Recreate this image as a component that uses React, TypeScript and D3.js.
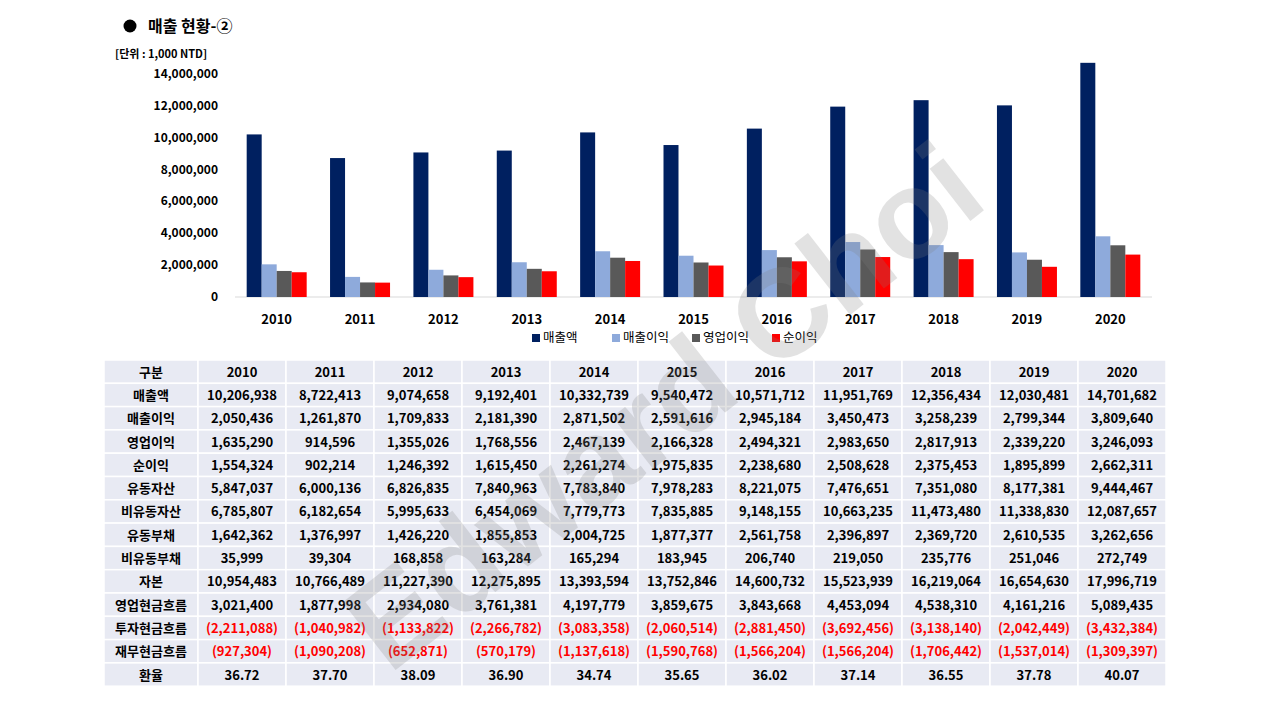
import * as d3 from 'd3'

const years = ['2010', '2011', '2012', '2013', '2014', '2015', '2016', '2017', '2018', '2019', '2020']
const seriesNames = ['매출액', '매출이익', '영업이익', '순이익']
const seriesColors = ['#002060', '#8eaadb', '#595959', '#ff0000']
const yTicks = [0, 2000000, 4000000, 6000000, 8000000, 10000000, 12000000, 14000000]

const sales = [10206938, 8722413, 9074658, 9192401, 10332739, 9540472, 10571712, 11951769, 12356434, 12030481, 14701682]
const grossProfit = [2050436, 1261870, 1709833, 2181390, 2871502, 2591616, 2945184, 3450473, 3258239, 2799344, 3809640]
const opProfit = [1635290, 914596, 1355026, 1768556, 2467139, 2166328, 2494321, 2983650, 2817913, 2339220, 3246093]
const netProfit = [1554324, 902214, 1246392, 1615450, 2261274, 1975835, 2238680, 2508628, 2375453, 1895899, 2662311]
const currentAssets = [5847037, 6000136, 6826835, 7840963, 7783840, 7978283, 8221075, 7476651, 7351080, 8177381, 9444467]
const nonCurrentAssets = [6785807, 6182654, 5995633, 6454069, 7779773, 7835885, 9148155, 10663235, 11473480, 11338830, 12087657]
const currentLiab = [1642362, 1376997, 1426220, 1855853, 2004725, 1877377, 2561758, 2396897, 2369720, 2610535, 3262656]
const nonCurrentLiab = [35999, 39304, 168858, 163284, 165294, 183945, 206740, 219050, 235776, 251046, 272749]
const equity = [10954483, 10766489, 11227390, 12275895, 13393594, 13752846, 14600732, 15523939, 16219064, 16654630, 17996719]
const opCash = [3021400, 1877998, 2934080, 3761381, 4197779, 3859675, 3843668, 4453094, 4538310, 4161216, 5089435]
const invCash = [-2211088, -1040982, -1133822, -2266782, -3083358, -2060514, -2881450, -3692456, -3138140, -2042449, -3432384]
const finCash = [-927304, -1090208, -652871, -570179, -1137618, -1590768, -1566204, -1566204, -1706442, -1537014, -1309397]
const fxRate = [36.72, 37.70, 38.09, 36.90, 34.74, 35.65, 36.02, 37.14, 36.55, 37.78, 40.07]

const chartSeries = [sales, grossProfit, opProfit, netProfit]
const tableRows: [string, number[], boolean?][] = [
  ['매출액', sales], ['매출이익', grossProfit], ['영업이익', opProfit], ['순이익', netProfit],
  ['유동자산', currentAssets], ['비유동자산', nonCurrentAssets], ['유동부채', currentLiab],
  ['비유동부채', nonCurrentLiab], ['자본', equity], ['영업현금흐름', opCash],
  ['투자현금흐름', invCash], ['재무현금흐름', finCash], ['환율', fxRate, true],
]

const font = '"Noto Sans CJK KR", "Noto Sans", sans-serif'
const fmt = d3.format(',')
const cell = (v: number, rate?: boolean) => rate ? v.toFixed(2) : v < 0 ? `(${fmt(-v)})` : fmt(v)

export default function App() {
  const x = d3.scaleBand().domain(years).range([235, 1152])
  const y = d3.scaleLinear().domain([0, 14000000]).range([297, 74])
  const inner = d3.scaleBand().domain(seriesNames).range([0, 60])
  const tx0 = 104, tx1 = 198, tEnd = 1166, tTop = 360, rowH = 23.3
  const col = d3.scaleBand().domain(years).range([tx1, tEnd])
  const allRows: [string, (string | number)[], boolean?][] = [['구분', years], ...tableRows]

  return (
    <svg width={1280} height={720} style={{ position: 'absolute', left: 0, top: 0 }} fontFamily={font} fontWeight="bold">
      <rect width={1280} height={720} fill="#fff" />
      <circle cx={130} cy={26} r={6.5} fill="#000" />
      <text x={148} y={32} fontSize={16}>매출 현황-②</text>
      <text x={115} y={58} fontSize={11}>[단위 : 1,000 NTD]</text>
      {yTicks.map(t => (
        <text key={t} x={218} y={y(t) + 4} fontSize={12} textAnchor="end">{fmt(t)}</text>
      ))}
      <line x1={235} x2={1152} y1={y(0)} y2={y(0)} stroke="#d9d9d9" />
      {years.map((yr, i) => (
        <g key={yr} transform={`translate(${x(yr)! + x.bandwidth() / 2 - 30},0)`}>
          {chartSeries.map((s, j) => (
            <rect key={j} x={inner(seriesNames[j])} width={inner.bandwidth()} y={y(s[i])} height={y(0) - y(s[i])} fill={seriesColors[j]} />
          ))}
          <text x={30} y={324} fontSize={13} textAnchor="middle">{yr}</text>
        </g>
      ))}
      {seriesNames.map((n, j) => (
        <g key={n} transform={`translate(${532 + j * 80},341)`}>
          <rect width={8} height={8} y={-7} fill={seriesColors[j]} />
          <text x={11} y={1} fontSize={12.5} fontWeight="normal">{n}</text>
        </g>
      ))}
      {allRows.map(([label, vals, rate], r) => {
        const yy = tTop + r * rowH
        const red = label === '투자현금흐름' || label === '재무현금흐름'
        return (
          <g key={label}>
            <rect x={tx0} y={yy} width={tx1 - tx0} height={rowH} fill="#e8eaf3" stroke="#fff" strokeWidth={1.5} />
            <text x={(tx0 + tx1) / 2} y={yy + rowH / 2 + 5} fontSize={13} textAnchor="middle">{label}</text>
            {years.map((yr, i) => {
              const v = vals[i]
              return (
                <g key={yr}>
                  <rect x={col(yr)} y={yy} width={col.bandwidth()} height={rowH} fill="#e8eaf3" stroke="#fff" strokeWidth={1.5} />
                  <text x={col(yr)! + col.bandwidth() / 2} y={yy + rowH / 2 + 5} fontSize={13} textAnchor="middle" fill={red ? '#ff0000' : '#000'}>
                    {typeof v === 'number' ? cell(v, rate) : v}
                  </text>
                </g>
              )
            })}
          </g>
        )
      })}
      <text x={690} y={440} fontSize={125} fill="#7f7f7f" opacity={0.22} textAnchor="middle" transform="rotate(-38 690 440)" fontFamily="'Liberation Sans', sans-serif">Edward Choi</text>
    </svg>
  )
}
